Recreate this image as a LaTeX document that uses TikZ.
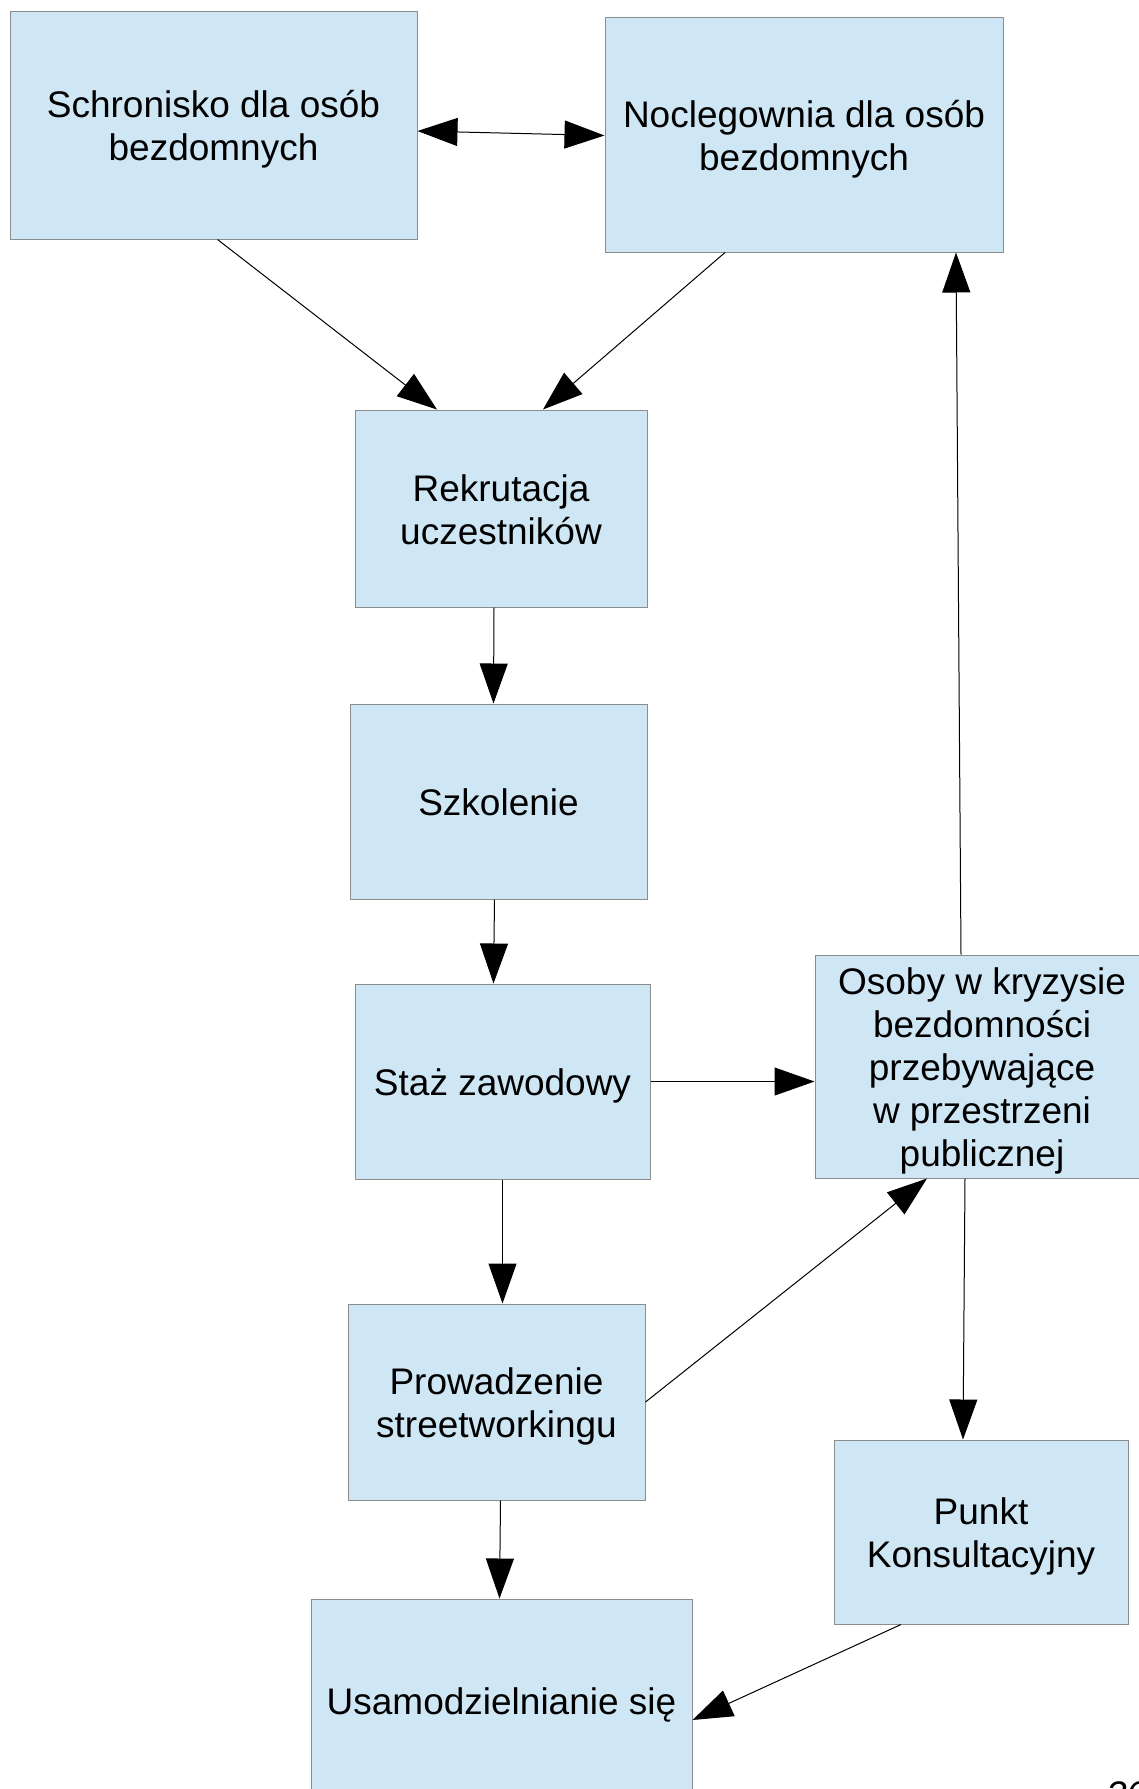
\documentclass[tikz,border=0pt]{standalone}
\usepackage{fontspec}
\setmainfont{Liberation Sans}
\usetikzlibrary{arrows.meta}
\definecolor{boxblue}{HTML}{CFE7F5}
\newcommand{\lostrut}{\rule[-3.9pt]{0pt}{21.9pt}}

\begin{document}
\begin{tikzpicture}[x=0.5pt,y=-0.5pt,
        box/.style={draw=black!45, line width=0.5pt, fill=boxblue, align=center, inner sep=0pt,
            font=\fontsize{18.5}{21.5}\selectfont, execute at end node=\lostrut},
        pointer/.style={-{Triangle[length=20pt,width=14pt]}, line width=0.5pt},
        dblpointer/.style={{Triangle[length=20pt,width=14pt]}-{Triangle[length=20pt,width=14pt]}, line width=0.5pt}]
        \clip (0,0) rectangle (1139,1789);
        \node[box, minimum width=203.5pt, minimum height=114pt] (schron) at (213.5,125) {\lostrut Schronisko dla osób\\bezdomnych};
        \node[box, minimum width=199pt, minimum height=117.5pt] (noclo) at (804,134.5) {\lostrut Noclegownia dla osób\\bezdomnych};
        \node[box, minimum width=146pt, minimum height=98.5pt] (rekr) at (501,508.5) {\lostrut Rekrutacja\\uczestników};
        \node[box, minimum width=148.5pt, minimum height=97.5pt] (szkol) at (498.5,801.5) {\lostrut Szkolenie};
        \node[box, minimum width=147.5pt, minimum height=97.5pt] (staz) at (502.5,1081.5) {\lostrut Staż zawodowy};
        \node[box, minimum width=167pt, minimum height=111.5pt] (osoby) at (982,1066.5) {\lostrut Osoby w kryzysie\\bezdomności\\przebywające\\w przestrzeni\\publicznej};
        \node[box, minimum width=148.5pt, minimum height=98pt] (prow) at (496.5,1402) {\lostrut Prowadzenie\\streetworkingu};
        \node[box, minimum width=147pt, minimum height=92pt] (punkt) at (981,1532) {\lostrut Punkt\\Konsultacyjny};
        \node[box, minimum width=190.5pt, minimum height=101pt] (usam) at (501.5,1700) {\lostrut Usamodzielnianie się};
        \node[font=\itshape\fontsize{18.5}{20}\selectfont, anchor=north west, inner sep=0pt] (strona) at (1106,1781) {36};

        \draw[dblpointer] ([yshift=-3pt]schron.east) -- ([yshift=-0.5pt]noclo.west);
        \draw[pointer] ([xshift=2pt]schron.south) -- ([xshift=-32pt]rekr.north);
        \draw[pointer] ([xshift=-39.5pt]noclo.south) -- ([xshift=21pt]rekr.north);
        \draw[pointer] ([xshift=-3.5pt]rekr.south) -- ([xshift=-2.5pt]szkol.north);
        \draw[pointer] ([xshift=-2pt]szkol.south) -- ([xshift=-4.5pt]staz.north);
        \draw[pointer] (staz.east) -- (staz.east -| osoby.west);
        \draw[pointer] ([xshift=-10.5pt]osoby.north) -- ([xshift=76pt]noclo.south);
        \draw[pointer] (staz.south) -- (staz.south |- prow.north);
        \draw[pointer] (prow.east) -- ([xshift=-27.5pt]osoby.south);
        \draw[pointer] ([xshift=-8.5pt]osoby.south) -- ([xshift=-9pt]punkt.north);
        \draw[pointer] ([xshift=2pt]prow.south) -- ([xshift=-1pt]usam.north);
        \draw[pointer] ([xshift=-40pt]punkt.south) -- ([yshift=-10pt]usam.east);
    \end{tikzpicture}
\end{document}
